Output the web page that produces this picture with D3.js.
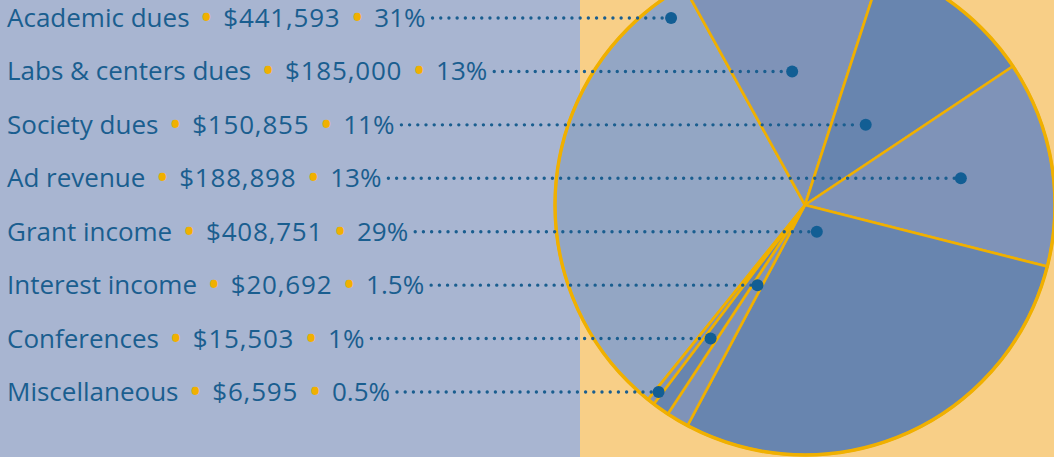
<!DOCTYPE html>
<html>
<head>
<meta charset="utf-8">
<script src="https://cdn.jsdelivr.net/npm/d3@7"></script>
<style>
  body { margin: 0; }
  svg { display: block; }
  text { font-family: "Open Sans", sans-serif; }
</style>
</head>
<body>
<svg id="chart" width="1054" height="457"></svg>
<script>
// данные диаграммы
const categories = ["Academic dues", "Labs & centers dues", "Society dues", "Ad revenue",
                    "Grant income", "Interest income", "Conferences", "Miscellaneous"];
const amounts = [441593, 185000, 150855, 188898, 408751, 20692, 15503, 6595];
const amountLabels = ["$441,593", "$185,000", "$150,855", "$188,898", "$408,751", "$20,692", "$15,503", "$6,595"];
const shareLabels = ["31%", "13%", "11%", "13%", "29%", "1.5%", "1%", "0.5%"];
const sliceColors = ["#93a6c4", "#7f93b8", "#6885af", "#7f93b8", "#6885af", "#7f93b8", "#6885af", "#7f93b8"];

const textColor = "#1a5e8f";
const gold = "#f0b000";

let svg = d3.select("#chart");
const width = +svg.attr("width"), height = +svg.attr("height");

// фон: слева голубой, справа персиковый
svg.append("rect").attr("width", width).attr("height", height).attr("fill", "#f8cf87");
svg.append("rect").attr("width", 580).attr("height", height).attr("fill", "#a8b5d1");

// круговая диаграмма
const cx = 805, cy = 205, r = 250;
const startDeg = 218.9;
const pie = d3.pie().sort(null).value(d => d)
    .startAngle(startDeg * Math.PI / 180)
    .endAngle(startDeg * Math.PI / 180 + 2 * Math.PI);
const arcs = pie(amounts);
const arc = d3.arc().innerRadius(0).outerRadius(r);

let gPie = svg.append("g").attr("transform", `translate(${cx}, ${cy})`);
gPie.selectAll("path")
    .data(arcs)
    .enter()
    .append("path")
    .attr("d", arc)
    .attr("fill", (d, i) => sliceColors[i])
    .attr("stroke", gold)
    .attr("stroke-width", 2.6)
    .attr("stroke-linejoin", "round");
gPie.append("circle").attr("r", r).attr("fill", "none").attr("stroke", gold).attr("stroke-width", 3.4);

// строки подписей
const scY = d3.scalePoint().domain(categories).range([27, 401]);

// точка на биссектрисе сектора на высоте строки
function dotX(a, y) {
    const mid = (a.startAngle + a.endAngle) / 2;
    const dy = y - cy;
    const t = -dy / Math.cos(mid);
    if (t > 0 && t < r) return cx + t * Math.sin(mid);
    const side = Math.sin(mid) < 0 ? -1 : 1;
    return cx + side * Math.sqrt((0.92 * r) ** 2 - dy * dy);
}

const gap = 12;
let rows = svg.append("g");
categories.forEach((c, i) => {
    const base = scY(c);
    const t = rows.append("text")
        .attr("x", 7).attr("y", base)
        .attr("font-size", 26)
        .attr("fill", textColor);
    t.append("tspan").text(c);
    t.append("tspan").attr("dx", gap).attr("fill", gold).attr("font-weight", "bold").text("•");
    t.append("tspan").attr("dx", gap).attr("letter-spacing", 0.8).text(amountLabels[i]);
    t.append("tspan").attr("dx", gap).attr("fill", gold).attr("font-weight", "bold").text("•");
    t.append("tspan").attr("dx", gap).text(shareLabels[i]);

    const b = t.node().getBBox();
    const x0 = b.x + b.width + 7;
    const yMid = base - 9;
    const x1 = dotX(arcs[i], yMid);

    rows.append("line")
        .attr("x1", x0).attr("x2", x1 - 6)
        .attr("y1", yMid).attr("y2", yMid)
        .attr("stroke", textColor)
        .attr("stroke-width", 3.4)
        .attr("stroke-linecap", "round")
        .attr("stroke-dasharray", "0 8.2");
    rows.append("circle")
        .attr("cx", x1).attr("cy", yMid).attr("r", 6)
        .attr("fill", "#125e94");
});
</script>
</body>
</html>
